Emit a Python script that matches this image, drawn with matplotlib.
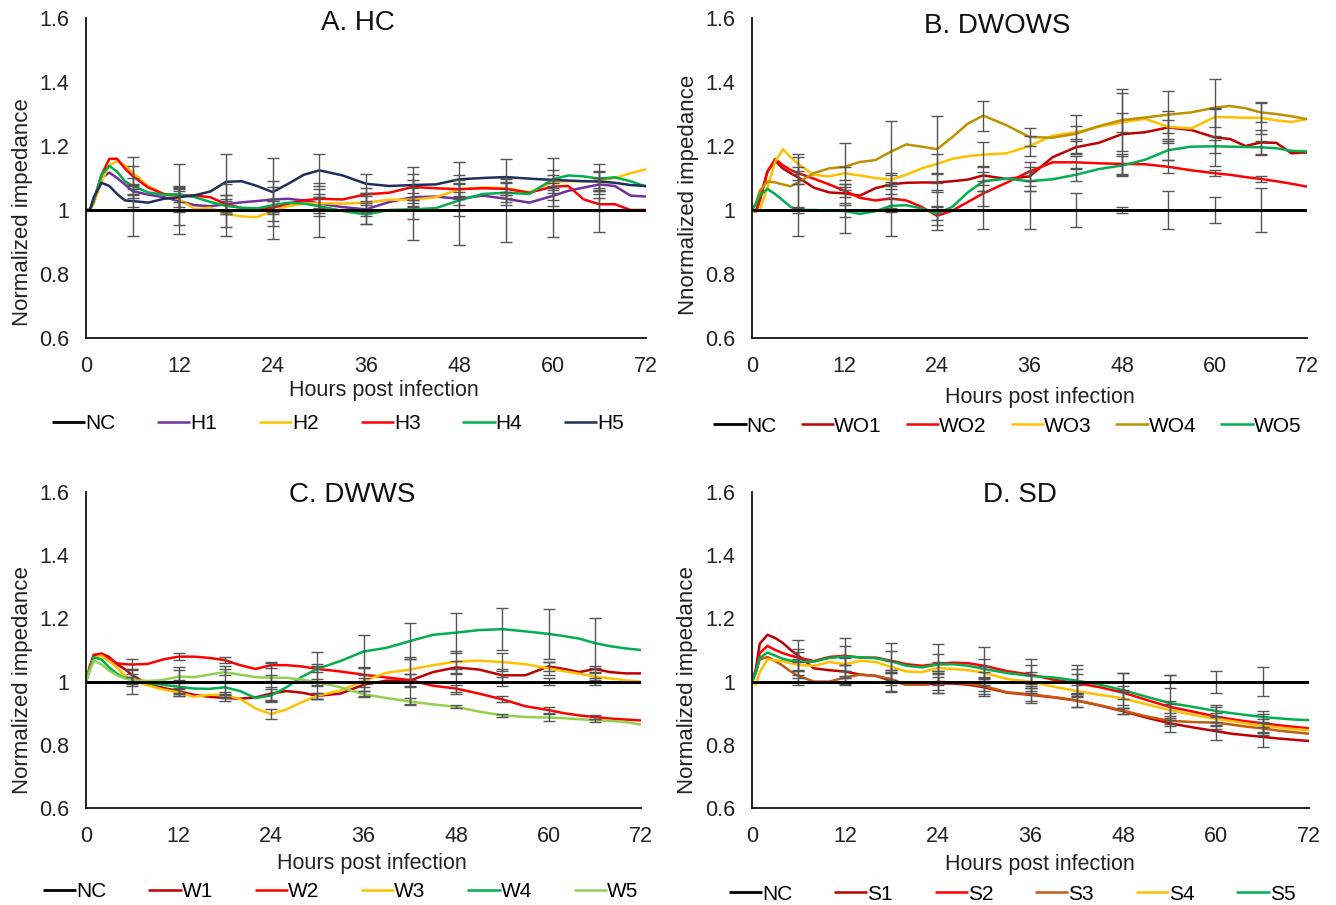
import numpy as np
import matplotlib
matplotlib.use("Agg")
import matplotlib.pyplot as plt

plt.rcParams['font.family'] = ['Liberation Sans', 'DejaVu Sans']

# hours post infection (shared sampling of the curves)
horas = [0, 0.5, 1, 2, 3, 4, 5, 6, 8, 10, 12, 14, 16, 18, 20, 22, 24, 26, 28, 30,
         33, 36, 39, 42, 45, 48, 51, 54, 57, 60, 62, 64, 66, 68, 70, 72]
# hours where the error bars sit
horas_erro = [6, 12, 18, 24, 30, 36, 42, 48, 54, 60, 66]

nc = [1.0] * len(horas)

# A. HC
h1 = [1.0, 1.0, 1.03, 1.10, 1.117, 1.10, 1.08, 1.059, 1.048, 1.04, 1.028, 1.015, 1.012, 1.018, 1.024, 1.028,
      1.033, 1.035, 1.03, 1.02, 1.009, 1.002, 1.025, 1.04, 1.042, 1.035, 1.045, 1.035, 1.023, 1.044, 1.06,
      1.07, 1.08, 1.075, 1.045, 1.042]
h2 = [1.0, 1.0, 1.02, 1.09, 1.14, 1.153, 1.14, 1.117, 1.075, 1.05, 1.033, 1.003, 1.007, 0.988, 0.98, 0.978,
      0.997, 1.012, 1.02, 1.021, 1.02, 1.023, 1.032, 1.032, 1.04, 1.065, 1.07, 1.068, 1.055, 1.088, 1.09,
      1.09, 1.092, 1.10, 1.115, 1.127]
h3 = [1.0, 1.0, 1.03, 1.11, 1.16, 1.16, 1.13, 1.106, 1.07, 1.05, 1.046, 1.045, 1.04, 1.018, 1.006, 1.004,
      1.007, 1.02, 1.03, 1.035, 1.033, 1.049, 1.054, 1.072, 1.068, 1.065, 1.068, 1.066, 1.054, 1.073, 1.075,
      1.033, 1.018, 1.018, 1.0, 1.0]
h4 = [1.0, 1.0, 1.03, 1.11, 1.138, 1.12, 1.09, 1.075, 1.055, 1.048, 1.049, 1.04, 1.025, 1.013, 1.007, 1.005,
      1.015, 1.023, 1.02, 1.012, 0.997, 0.986, 1.0, 1.002, 1.006, 1.03, 1.05, 1.054, 1.05, 1.096, 1.108,
      1.105, 1.098, 1.102, 1.09, 1.073]
h5 = [1.0, 1.0, 1.04, 1.085, 1.075, 1.05, 1.03, 1.028, 1.023, 1.035, 1.04, 1.046, 1.058, 1.088, 1.09, 1.075,
      1.056, 1.082, 1.11, 1.124, 1.108, 1.082, 1.075, 1.078, 1.08, 1.096, 1.1, 1.103, 1.098, 1.094, 1.092,
      1.09, 1.089, 1.085, 1.078, 1.075]
erro_nc_a = [0.08, 0.075, 0.08, 0.09, 0.085, 0.045, 0.095, 0.11, 0.1, 0.085, 0.07]
erro_h1 = [0.02, 0.03, 0.03, 0.04, 0.03, 0.02, 0.03, 0.02, 0.02, 0.03, 0.02]
erro_h2 = [0.05, 0.04, 0.04, 0.03, 0.02, 0.03, 0.02, 0.03, 0.02, 0.02, 0.03]
erro_h3 = [0.03, 0.02, 0.03, 0.02, 0.03, 0.02, 0.04, 0.02, 0.03, 0.02, 0.02]
erro_h4 = [0.025, 0.095, 0.02, 0.02, 0.03, 0.03, 0.03, 0.05, 0.03, 0.065, 0.047]
erro_h5 = [0.02, 0.03, 0.088, 0.105, 0.05, 0.03, 0.055, 0.055, 0.055, 0.03, 0.03]

# B. DWOWS
wo1 = [1.0, 0.995, 1.03, 1.12, 1.154, 1.13, 1.115, 1.102, 1.07, 1.055, 1.052, 1.045, 1.068, 1.08, 1.085, 1.086,
       1.086, 1.09, 1.095, 1.108, 1.097, 1.105, 1.165, 1.196, 1.21, 1.237, 1.243, 1.258, 1.25, 1.227, 1.222,
       1.2, 1.211, 1.21, 1.177, 1.18]
wo2 = [1.0, 0.995, 1.03, 1.12, 1.159, 1.14, 1.125, 1.115, 1.098, 1.08, 1.06, 1.038, 1.03, 1.036, 1.03, 1.01,
       0.982, 0.998, 1.025, 1.052, 1.085, 1.12, 1.149, 1.149, 1.146, 1.144, 1.143, 1.135, 1.124, 1.115, 1.11,
       1.103, 1.097, 1.09, 1.082, 1.073]
wo3 = [1.0, 0.995, 1.0, 1.07, 1.15, 1.19, 1.165, 1.144, 1.11, 1.105, 1.115, 1.108, 1.1, 1.095, 1.11, 1.13,
       1.144, 1.16, 1.168, 1.173, 1.177, 1.2, 1.232, 1.243, 1.26, 1.274, 1.285, 1.26, 1.255, 1.29, 1.29,
       1.288, 1.288, 1.28, 1.275, 1.284]
wo4 = [1.0, 1.02, 1.06, 1.089, 1.086, 1.08, 1.074, 1.086, 1.115, 1.13, 1.135, 1.15, 1.156, 1.182, 1.205, 1.198,
       1.19, 1.228, 1.27, 1.295, 1.265, 1.228, 1.226, 1.238, 1.262, 1.281, 1.289, 1.298, 1.305, 1.32, 1.325,
       1.318, 1.305, 1.3, 1.293, 1.284]
wo5 = [1.0, 1.02, 1.045, 1.066, 1.05, 1.03, 1.01, 1.0, 1.0, 0.998, 0.997, 0.988, 0.996, 1.013, 1.015, 1.005,
       0.988, 1.01, 1.055, 1.09, 1.098, 1.09, 1.096, 1.11, 1.128, 1.139, 1.157, 1.187, 1.198, 1.199, 1.198,
       1.197, 1.196, 1.193, 1.185, 1.183]
erro_nc_b = [0.08, 0.073, 0.08, 0.0625, 0.06, 0.06, 0.054, 0.01, 0.06, 0.04, 0.07]
erro_wo1 = [0.02, 0.03, 0.03, 0.03, 0.03, 0.03, 0.02, 0.13, 0.05, 0.09, 0.04]
erro_wo2 = [0.02, 0.02, 0.03, 0.03, 0.04, 0.03, 0.02, 0.03, 0.02, 0.01, 0.01]
erro_wo3 = [0.03, 0.02, 0.02, 0.03, 0.04, 0.03, 0.02, 0.03, 0.02, 0.03, 0.05]
erro_wo4 = [0.08, 0.073, 0.095, 0.105, 0.047, 0.028, 0.06, 0.097, 0.075, 0.09, 0.03]
erro_wo5 = [0.01, 0.02, 0.02, 0.02, 0.03, 0.03, 0.02, 0.03, 0.03, 0.02, 0.02]

# C. DWWS
w1 = [1.0, 1.04, 1.08, 1.089, 1.078, 1.055, 1.04, 1.02, 0.992, 0.98, 0.97, 0.958, 0.952, 0.948, 0.946, 0.95,
      0.962, 0.97, 0.965, 0.955, 0.962, 0.99, 1.003, 1.003, 1.03, 1.045, 1.038, 1.02, 1.02, 1.048, 1.04,
      1.03, 1.04, 1.03, 1.026, 1.026]
w2 = [1.0, 1.05, 1.085, 1.088, 1.072, 1.058, 1.055, 1.054, 1.056, 1.07, 1.079, 1.079, 1.075, 1.068, 1.052, 1.04,
      1.052, 1.052, 1.048, 1.04, 1.032, 1.022, 1.013, 1.005, 0.987, 0.978, 0.962, 0.944, 0.922, 0.91, 0.9,
      0.893, 0.888, 0.883, 0.88, 0.877]
w3 = [1.0, 1.04, 1.075, 1.082, 1.065, 1.045, 1.02, 1.003, 0.988, 0.975, 0.966, 0.952, 0.958, 0.958, 0.945, 0.915,
      0.897, 0.912, 0.935, 0.955, 0.972, 1.002, 1.028, 1.038, 1.052, 1.063, 1.066, 1.062, 1.055, 1.042, 1.033,
      1.025, 1.016, 1.01, 1.004, 1.0]
w4 = [1.0, 1.04, 1.077, 1.07, 1.045, 1.025, 1.012, 1.005, 0.995, 0.99, 0.984, 0.978, 0.977, 0.982, 0.97, 0.948,
      0.956, 0.982, 1.015, 1.04, 1.065, 1.095, 1.107, 1.128, 1.148, 1.155, 1.163, 1.166, 1.159, 1.151, 1.144,
      1.136, 1.122, 1.112, 1.105, 1.1]
w5 = [1.0, 1.035, 1.066, 1.055, 1.035, 1.02, 1.01, 1.005, 1.002, 1.005, 1.016, 1.014, 1.022, 1.03, 1.022, 1.014,
      1.012, 1.012, 1.006, 0.998, 0.982, 0.96, 0.948, 0.937, 0.928, 0.92, 0.905, 0.893, 0.888, 0.886, 0.884,
      0.881, 0.878, 0.876, 0.872, 0.864]
erro_nc_c = [0.04, 0.045, 0.05, 0.06, 0.055, 0.045, 0.07, 0.04, 0.015, 0.01, 0.01]
erro_w1 = [0.02, 0.01, 0.01, 0.02, 0.01, 0.02, 0.02, 0.02, 0.02, 0.015, 0.01]
erro_w2 = [0.018, 0.01, 0.01, 0.01, 0.01, 0.02, 0.02, 0.01, 0.01, 0.01, 0.005]
erro_w3 = [0.01, 0.01, 0.01, 0.015, 0.01, 0.02, 0.04, 0.035, 0.03, 0.02, 0.01]
erro_w4 = [0.02, 0.02, 0.02, 0.02, 0.055, 0.053, 0.056, 0.063, 0.066, 0.08, 0.08]
erro_w5 = [0.01, 0.02, 0.01, 0.01, 0.01, 0.01, 0.01, 0.005, 0.005, 0.01, 0.005]

# D. SD
s1 = [1.0, 1.04, 1.12, 1.148, 1.138, 1.122, 1.1, 1.082, 1.042, 1.036, 1.032, 1.022, 1.018, 1.003, 0.99, 0.99,
      0.994, 0.994, 0.99, 0.982, 0.965, 0.958, 0.95, 0.94, 0.924, 0.906, 0.886, 0.868, 0.855, 0.843, 0.835,
      0.83, 0.825, 0.82, 0.816, 0.812]
s2 = [1.0, 1.03, 1.09, 1.113, 1.1, 1.09, 1.082, 1.076, 1.065, 1.078, 1.082, 1.076, 1.076, 1.066, 1.055, 1.05,
      1.056, 1.06, 1.058, 1.05, 1.033, 1.022, 1.006, 0.995, 0.982, 0.965, 0.942, 0.92, 0.905, 0.889, 0.881,
      0.874, 0.868, 0.862, 0.857, 0.852]
s3 = [1.0, 1.03, 1.07, 1.078, 1.065, 1.05, 1.032, 1.018, 1.0, 1.0, 1.013, 1.022, 1.018, 1.008, 0.99, 0.99,
      1.0, 0.997, 0.993, 0.986, 0.966, 0.96, 0.951, 0.94, 0.925, 0.908, 0.89, 0.876, 0.872, 0.87, 0.864,
      0.857, 0.852, 0.845, 0.84, 0.835]
s4 = [1.0, 0.99, 1.03, 1.07, 1.068, 1.064, 1.058, 1.053, 1.05, 1.062, 1.055, 1.066, 1.062, 1.046, 1.032, 1.03,
      1.043, 1.04, 1.036, 1.028, 1.008, 1.0, 0.984, 0.97, 0.958, 0.947, 0.928, 0.91, 0.895, 0.882, 0.875,
      0.867, 0.861, 0.855, 0.85, 0.846]
s5 = [1.0, 1.03, 1.075, 1.092, 1.082, 1.072, 1.066, 1.063, 1.063, 1.075, 1.079, 1.077, 1.074, 1.064, 1.05, 1.045,
      1.054, 1.055, 1.05, 1.04, 1.027, 1.018, 1.013, 1.003, 0.99, 0.973, 0.952, 0.932, 0.92, 0.907, 0.9,
      0.894, 0.888, 0.884, 0.88, 0.878]
erro_nc_d = [0.01, 0.012, 0.03, 0.035, 0.03, 0.03, 0.04, 0.028, 0.02, 0.035, 0.045]
erro_s1 = [0.02, 0.02, 0.035, 0.02, 0.02, 0.027, 0.02, 0.01, 0.01, 0.028, 0.032]
erro_s2 = [0.055, 0.03, 0.03, 0.03, 0.06, 0.03, 0.03, 0.02, 0.02, 0.03, 0.03]
erro_s3 = [0.02, 0.02, 0.02, 0.035, 0.03, 0.02, 0.02, 0.01, 0.01, 0.02, 0.02]
erro_s4 = [0.02, 0.02, 0.02, 0.02, 0.02, 0.02, 0.02, 0.02, 0.02, 0.02, 0.02]
erro_s5 = [0.03, 0.06, 0.058, 0.066, 0.03, 0.054, 0.05, 0.055, 0.09, 0.02, 0.02]

PRETO = '#000000'
ROXO = '#7030A0'
AMARELO = '#FFC000'
VERMELHO = '#FF0000'
VERDE = '#00B050'
AZUL = '#1F2F5C'
VINHO = '#C00000'
OURO = '#BF9000'
VERDE_CLARO = '#92D050'
LARANJA = '#C55A11'

paineis = [
    dict(pos=[86, 18, 646, 338], titulo='A. HC', tit_xy=(0.486, 0.985),
         ylabel='Normalized impedance', xlab_xy=(0.532, -0.165), ylab_xy=(-0.114, 0.394),
         leg_xy=(0.253, 0.5315), colsp=2.0,
         nomes=['NC', 'H1', 'H2', 'H3', 'H4', 'H5'],
         series=[nc, h1, h2, h3, h4, h5],
         erros=[erro_nc_a, erro_h1, erro_h2, erro_h3, erro_h4, erro_h5],
         cores=[PRETO, ROXO, AMARELO, VERMELHO, VERDE, AZUL]),
    dict(pos=[752, 18, 1307, 338], titulo='B. DWOWS', tit_xy=(0.441, 0.975),
         ylabel='Nnormalized impedance', xlab_xy=(0.519, -0.185), ylab_xy=(-0.115, 0.447),
         leg_xy=(0.754, 0.529), colsp=1.15,
         nomes=['NC', 'WO1', 'WO2', 'WO3', 'WO4', 'WO5'],
         series=[nc, wo1, wo2, wo3, wo4, wo5],
         erros=[erro_nc_b, erro_wo1, erro_wo2, erro_wo3, erro_wo4, erro_wo5],
         cores=[PRETO, VINHO, VERMELHO, AMARELO, OURO, VERDE]),
    dict(pos=[86, 492, 641, 808], titulo='C. DWWS', tit_xy=(0.479, 0.99),
         ylabel='Normalized impedance', xlab_xy=(0.515, -0.175), ylab_xy=(-0.115, 0.405),
         leg_xy=(0.255, 0.0144), colsp=2.0,
         nomes=['NC', 'W1', 'W2', 'W3', 'W4', 'W5'],
         series=[nc, w1, w2, w3, w4, w5],
         erros=[erro_nc_c, erro_w1, erro_w2, erro_w3, erro_w4, erro_w5],
         cores=[PRETO, VINHO, VERMELHO, AMARELO, VERDE, VERDE_CLARO]),
    dict(pos=[752, 492, 1309, 808], titulo='D. SD', tit_xy=(0.481, 0.99),
         ylabel='Normalized impedance', xlab_xy=(0.517, -0.18), ylab_xy=(-0.115, 0.405),
         leg_xy=(0.7575, 0.012), colsp=2.0,
         nomes=['NC', 'S1', 'S2', 'S3', 'S4', 'S5'],
         series=[nc, s1, s2, s3, s4, s5],
         erros=[erro_nc_d, erro_s1, erro_s2, erro_s3, erro_s4, erro_s5],
         cores=[PRETO, VINHO, VERMELHO, LARANJA, AMARELO, VERDE]),
]

LARG, ALT = 1336, 905
fig = plt.figure(figsize=(LARG / 100, ALT / 100), dpi=100)

idx_erro = [horas.index(h) for h in horas_erro]

for p in paineis:
    x0, y0, x1, y1 = p['pos']
    ax = fig.add_axes([x0 / LARG, 1 - y1 / ALT, (x1 - x0) / LARG, (y1 - y0) / ALT])
    linhas = []
    for nome, serie, cor in zip(p['nomes'], p['series'], p['cores']):
        lw = 2.0 if nome == 'NC' else 1.8
        ln, = ax.plot(horas, serie, color=cor, lw=lw, label=nome, zorder=2,
                      solid_capstyle='butt')
        linhas.append(ln)
    # barras de erro
    for serie, erro in zip(p['series'], p['erros']):
        centros = [serie[i] for i in idx_erro]
        ax.errorbar(horas_erro, centros, yerr=erro, fmt='none', ecolor='#555555',
                    elinewidth=1.0, capsize=4, capthick=1.0, zorder=3)
    # NC por cima de tudo
    ax.plot(horas, p['series'][0], color=PRETO, lw=2.0, zorder=4)

    ax.set_xlim(0, 72)
    ax.set_ylim(0.6, 1.6)
    ax.set_xticks(range(0, 73, 12))
    ax.set_yticks([0.6, 0.8, 1.0, 1.2, 1.4, 1.6])
    ax.set_yticklabels(['0.6', '0.8', '1', '1.2', '1.4', '1.6'])
    ax.tick_params(length=0, labelsize=15.5, colors='#222222')
    ax.tick_params(axis='x', pad=13)
    ax.tick_params(axis='y', pad=12)
    for lado in ['top', 'right']:
        ax.spines[lado].set_visible(False)
    for lado in ['left', 'bottom']:
        ax.spines[lado].set_color('#111111')
        ax.spines[lado].set_linewidth(1.3)

    ax.text(p['tit_xy'][0], p['tit_xy'][1], p['titulo'], transform=ax.transAxes,
            ha='center', va='center', fontsize=20, color='#111111')
    ax.set_xlabel('Hours post infection', fontsize=15.5, color='#222222')
    ax.xaxis.set_label_coords(*p['xlab_xy'])
    ax.xaxis.label.set_va('center')
    ax.set_ylabel(p['ylabel'], fontsize=16, color='#222222')
    ax.yaxis.set_label_coords(*p['ylab_xy'])
    ax.yaxis.label.set_va('center')

    fig.legend(handles=linhas, labels=p['nomes'], loc='center',
               bbox_to_anchor=p['leg_xy'], ncol=6, frameon=False, fontsize=15,
               handlelength=1.6, handletextpad=0.0, columnspacing=p['colsp'],
               borderaxespad=0, borderpad=0)

fig.savefig('out.png', dpi=100)
